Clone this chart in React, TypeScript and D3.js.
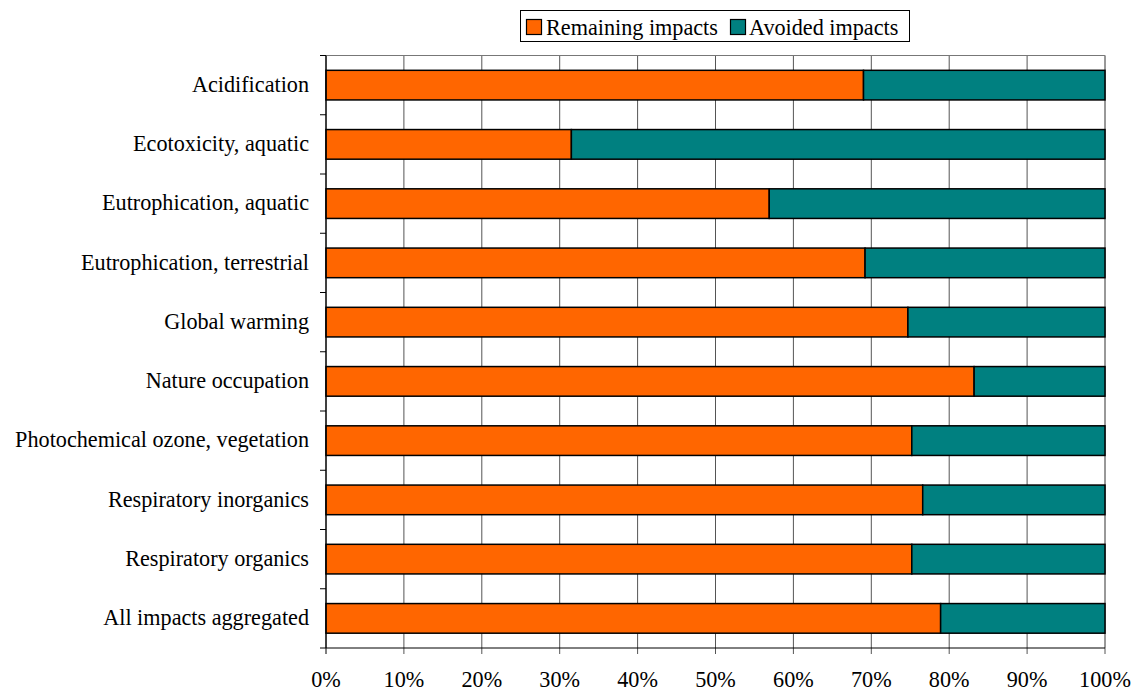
import React from "react";
import * as d3 from "d3";

const categories = [
  "Acidification",
  "Ecotoxicity, aquatic",
  "Eutrophication, aquatic",
  "Eutrophication, terrestrial",
  "Global warming",
  "Nature occupation",
  "Photochemical ozone, vegetation",
  "Respiratory inorganics",
  "Respiratory organics",
  "All impacts aggregated",
];
const remaining = [69.0, 31.5, 56.9, 69.2, 74.7, 83.2, 75.2, 76.6, 75.2, 78.9];
const avoided = remaining.map((v) => 100 - v);
const xTicks = [0, 10, 20, 30, 40, 50, 60, 70, 80, 90, 100];
const seriesNames = ["Remaining impacts", "Avoided impacts"];
const colors = ["#FF6600", "#008080"];

export default function App() {
  const W = 1133, H = 693;
  const left = 326, right = 1105, top = 55.5, bottom = 648;
  const x = d3.scaleLinear().domain([0, 100]).range([left, right]);
  const y = d3.scaleBand<string>().domain(categories).range([top, bottom]).paddingInner(0.5).paddingOuter(0.25);
  const yb = d3.scaleBand<string>().domain(categories).range([top, bottom]);
  const fs = { fontFamily: "Liberation Serif, DejaVu Serif, serif" };
  const boundaries = categories.map((c) => yb(c)!).concat([bottom]);
  const FS = 22.2;
  return (
    <svg width={W} height={H} style={{ position: "absolute", left: 0, top: 0, background: "#fff" }}>
      {xTicks.map((t) => (
        <line key={"g" + t} x1={x(t)} x2={x(t)} y1={top} y2={bottom + 6} stroke={t === 0 ? "#000" : "#555"} strokeWidth={1} />
      ))}
      <line x1={left} x2={right} y1={top} y2={top} stroke="#777" />
      <line x1={right} x2={right} y1={top} y2={bottom} stroke="#888" />
      {categories.map((c, i) => (
        <g key={c}>
          <rect x={x(0)} y={y(c)} width={x(remaining[i]) - x(0)} height={y.bandwidth()} fill={colors[0]} stroke="#000" strokeWidth={1.5} />
          <rect x={x(remaining[i])} y={y(c)} width={x(remaining[i] + avoided[i]) - x(remaining[i])} height={y.bandwidth()} fill={colors[1]} stroke="#000" strokeWidth={1.5} />
        </g>
      ))}
      <line x1={left} x2={left} y1={top} y2={bottom} stroke="#000" />
      <line x1={left} x2={right} y1={bottom} y2={bottom} stroke="#000" />
      {boundaries.map((b, i) => (
        <line key={"yt" + i} x1={left - 6} x2={left} y1={b} y2={b} stroke="#000" />
      ))}
      {categories.map((c) => (
        <text key={"l" + c} x={309} y={y(c)! + y.bandwidth() / 2 + 6.8} textAnchor="end" fontSize={FS} fill="#000" style={fs}>
          {c}
        </text>
      ))}
      {xTicks.map((t) => (
        <text key={"xl" + t} x={x(t)} y={687} textAnchor="middle" fontSize={FS} fill="#000" style={fs}>
          {t}%
        </text>
      ))}
      <rect x={520.5} y={10.5} width={389} height={31} fill="#fff" stroke="#000" />
      <rect x={526.5} y={19.5} width={15} height={15} fill={colors[0]} stroke="#000" strokeWidth={1.2} />
      <text x={546} y={35} fontSize={FS} style={fs}>{seriesNames[0]}</text>
      <rect x={730.5} y={19.5} width={15} height={15} fill={colors[1]} stroke="#000" strokeWidth={1.2} />
      <text x={749} y={35} fontSize={FS} style={fs}>{seriesNames[1]}</text>
    </svg>
  );
}
